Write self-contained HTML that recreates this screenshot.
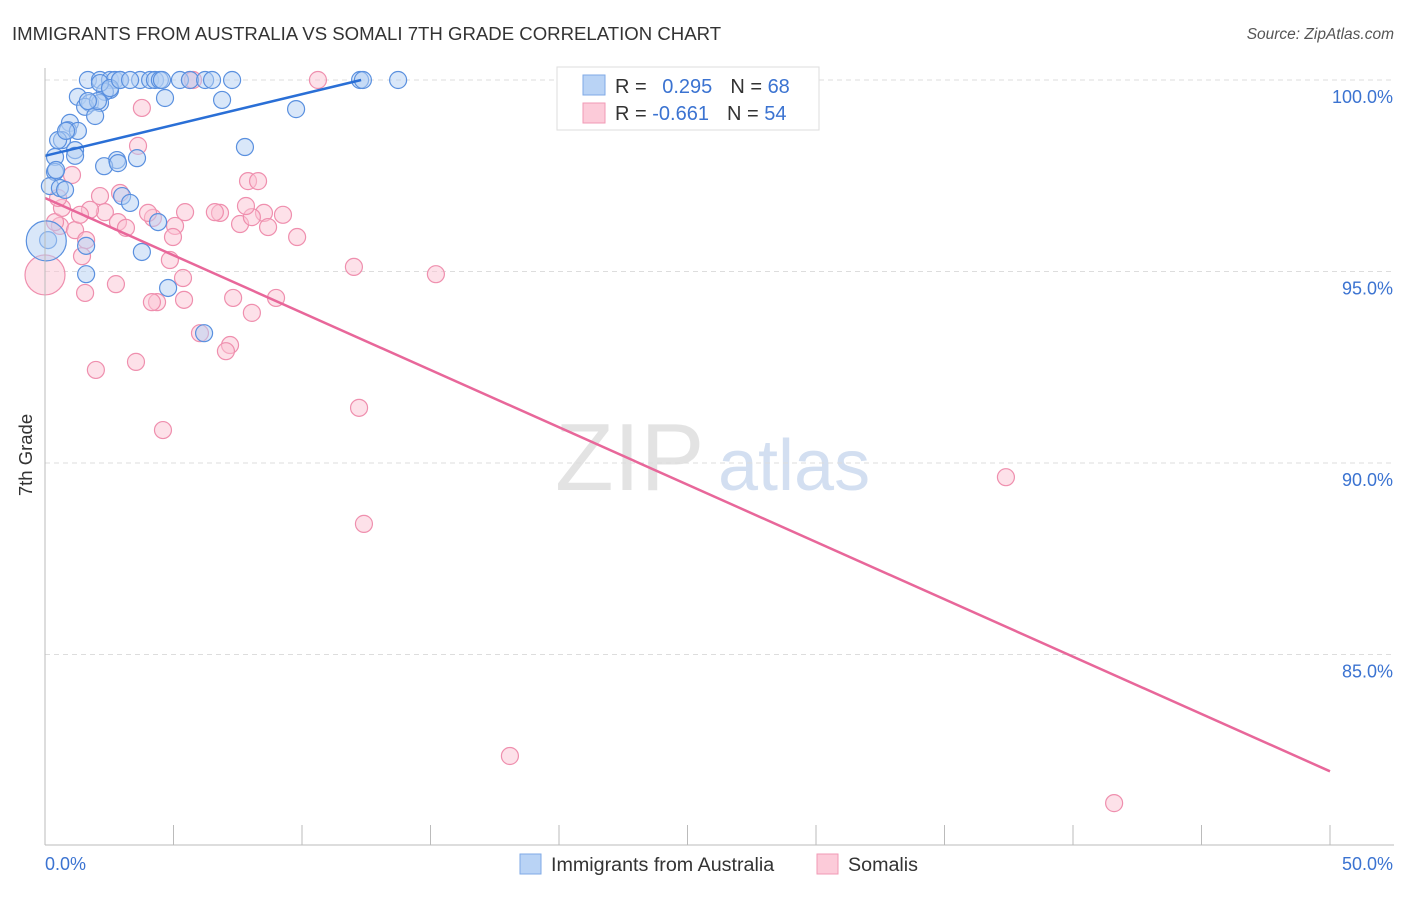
<!DOCTYPE html>
<html><head><meta charset="utf-8"><style>
body{margin:0;background:#fff;font-family:"Liberation Sans",sans-serif;}
svg text{font-family:"Liberation Sans",sans-serif;}
</style></head><body>
<svg id="chart" width="1406" height="892">
<text x="12" y="40" font-size="18.6" fill="#333">IMMIGRANTS FROM AUSTRALIA VS SOMALI 7TH GRADE CORRELATION CHART</text>
<text x="1394" y="39" font-size="15.5" fill="#555" font-style="italic" text-anchor="end">Source: ZipAtlas.com</text>
<text x="32" y="455" font-size="18.5" fill="#333" text-anchor="middle" transform="rotate(-90 32 455)">7th Grade</text>
<g><text x="555" y="490" font-size="96" fill="#ddd" font-family="Liberation Serif" opacity="0.8">ZIP</text><text x="718" y="490" font-size="72" fill="#c9d8ee" opacity="0.8">atlas</text></g>
<g id="grid"></g><g id="pts"></g><g id="lines"></g><g id="axes"></g>
<g>
<rect x="557" y="67" width="262" height="63" fill="#fff" stroke="#ddd"/>
<rect x="583" y="75" width="22" height="20" fill="#b9d3f5" stroke="#7faae6"/>
<rect x="583" y="103" width="22" height="20" fill="#fccbd9" stroke="#f19ab5"/>
<text x="615" y="93" font-size="20" fill="#333">R = <tspan fill="#3b73d1" dx="10">0.295</tspan><tspan dx="18" fill="#333">N = </tspan><tspan fill="#3b73d1">68</tspan></text>
<text x="615" y="120" font-size="20" fill="#333">R = <tspan fill="#3b73d1">-0.661</tspan><tspan dx="18" fill="#333">N = </tspan><tspan fill="#3b73d1">54</tspan></text>
</g>
<g>
<rect x="520" y="854" width="21" height="20" fill="#b9d3f5" stroke="#7faae6"/>
<text x="551" y="871" font-size="19.7" fill="#333">Immigrants from Australia</text>
<rect x="817" y="854" width="21" height="20" fill="#fccbd9" stroke="#f19ab5"/>
<text x="848" y="871" font-size="19.7" fill="#333">Somalis</text>
</g>
</svg>
<script>
const yTicks=[100,95,90,85];
const xTickLabels=["0.0%","50.0%"];
const blueX=[1.67,2.14,2.53,2.72,2.92,3.70,4.09,4.28,4.47,4.55,5.25,5.64,6.23,6.50,7.28,12.26,12.37,13.74,2.53,2.33,1.28,4.67,6.89,1.75,2.14,1.56,1.95,9.77,0.97,0.89,1.28,0.66,0.51,7.78,1.17,1.17,0.39,3.58,2.80,2.30,2.84,0.39,0.19,0.58,0.78,3.00,3.31,4.40,0.12,1.60,3.77,1.60,4.79,6.19,2.14,2.53,2.92,3.31,0.43,0.82,2.06,1.67];
const blueY=[100,100,100,100,100,100,100,100,100,100,100,100,100,100,100,100,100,100,99.74,99.69,99.56,99.53,99.48,99.40,99.40,99.30,99.06,99.24,98.88,98.69,98.67,98.43,98.43,98.25,98.17,98.02,97.99,97.96,97.91,97.75,97.83,97.60,97.23,97.18,97.13,96.97,96.79,96.29,95.82,95.67,95.51,94.93,94.57,93.39,99.92,99.79,100,100,97.65,98.67,99.45,99.45];
const pinkX=[10.62,5.64,5.76,3.77,3.62,2.92,1.05,2.14,2.33,1.75,2.84,3.15,0.58,0.39,1.17,1.36,0.66,0.51,4.20,5.06,4.01,5.45,6.81,7.90,8.29,6.61,7.59,8.52,9.26,9.81,8.05,8.68,4.86,1.56,2.76,4.36,4.16,5.41,7.32,8.05,8.99,1.60,1.44,6.03,7.20,7.04,1.98,3.54,4.59,12.22,12.41,12.02,15.21,37.39,18.09,41.60,5.37,7.82,4.98];
const pinkY=[100,100,100,99.27,98.28,97.05,97.52,96.97,96.55,96.61,96.29,96.14,96.19,96.29,96.08,96.48,96.66,96.92,96.40,96.19,96.53,96.55,96.53,97.36,97.36,96.55,96.24,96.53,96.48,95.90,96.42,96.16,95.30,94.44,94.67,94.20,94.20,94.26,94.31,93.92,94.31,95.82,95.40,93.39,93.08,92.92,92.43,92.64,90.86,91.44,88.41,95.12,94.93,89.63,82.35,81.12,94.83,96.71,95.90];
const bigBlue=[0.05,95.8], bigPink=[0.0,94.91];
const blueFit=[[0,98.02],[12.3,100]];
const pinkFit=[[0,96.92],[50,81.95]];
const X=v=>45+v*25.7, Y=v=>80+(100-v)*38.3;
const NS="http://www.w3.org/2000/svg";
function mk(tag,attrs,parent){const e=document.createElementNS(NS,tag);for(const k in attrs)e.setAttribute(k,attrs[k]);document.getElementById(parent).appendChild(e);return e;}
yTicks.forEach(t=>{
 const g=mk('line',{x1:45,x2:1394,y1:Y(t),y2:Y(t),stroke:'#ddd','stroke-dasharray':'5,4'},'grid');
 
 
 const l=mk('text',{x:1393,y:Y(t)+23,'font-size':18,fill:'#3b73d1','text-anchor':'end'},'axes');
 l.textContent=t.toFixed(1)+'%';
 
 
});
for(let i=0;i<=10;i++){
 const t=mk('line',{x1:X(i*5),x2:X(i*5),y1:825,y2:845,stroke:'#bbb'},'axes');
 
 
}
let a=mk('line',{x1:45,x2:45,y1:68,y2:845,stroke:'#bbb'},'axes');


a=mk('line',{x1:45,x2:1394,y1:845,y2:845,stroke:'#bbb'},'axes');


xTickLabels.forEach((s,i)=>{const l=mk('text',{x:i?1393:45,y:870,'font-size':18,fill:'#3b73d1','text-anchor':i?'end':'start'},'axes');l.textContent=s;
 
 });
function dot(x,y,r,col,st,name){const c=mk('circle',{cx:X(x),cy:Y(y),r:r,fill:col,'fill-opacity':0.5,stroke:st,'stroke-width':1.2},'pts');
 
 }
pinkX.forEach((x,i)=>dot(x,pinkY[i],8.5,'#fbc3d3','#ef8fae','somali-point'));
blueX.forEach((x,i)=>dot(x,blueY[i],8.5,'#b3cff3','#5a90df','australia-point'));
dot(bigPink[0],bigPink[1],20,'#fbc3d3','#ef8fae','somali-point');
dot(bigBlue[0],bigBlue[1],20,'#b3cff3','#5a90df','australia-point');
let ln=mk('line',{x1:X(blueFit[0][0]),y1:Y(blueFit[0][1]),x2:X(blueFit[1][0]),y2:Y(blueFit[1][1]),stroke:'#2a6fd6','stroke-width':2.5},'lines');


ln=mk('line',{x1:X(pinkFit[0][0]),y1:Y(pinkFit[0][1]),x2:X(pinkFit[1][0]),y2:Y(pinkFit[1][1]),stroke:'#e8679a','stroke-width':2.5},'lines');


</script>
</body></html>
